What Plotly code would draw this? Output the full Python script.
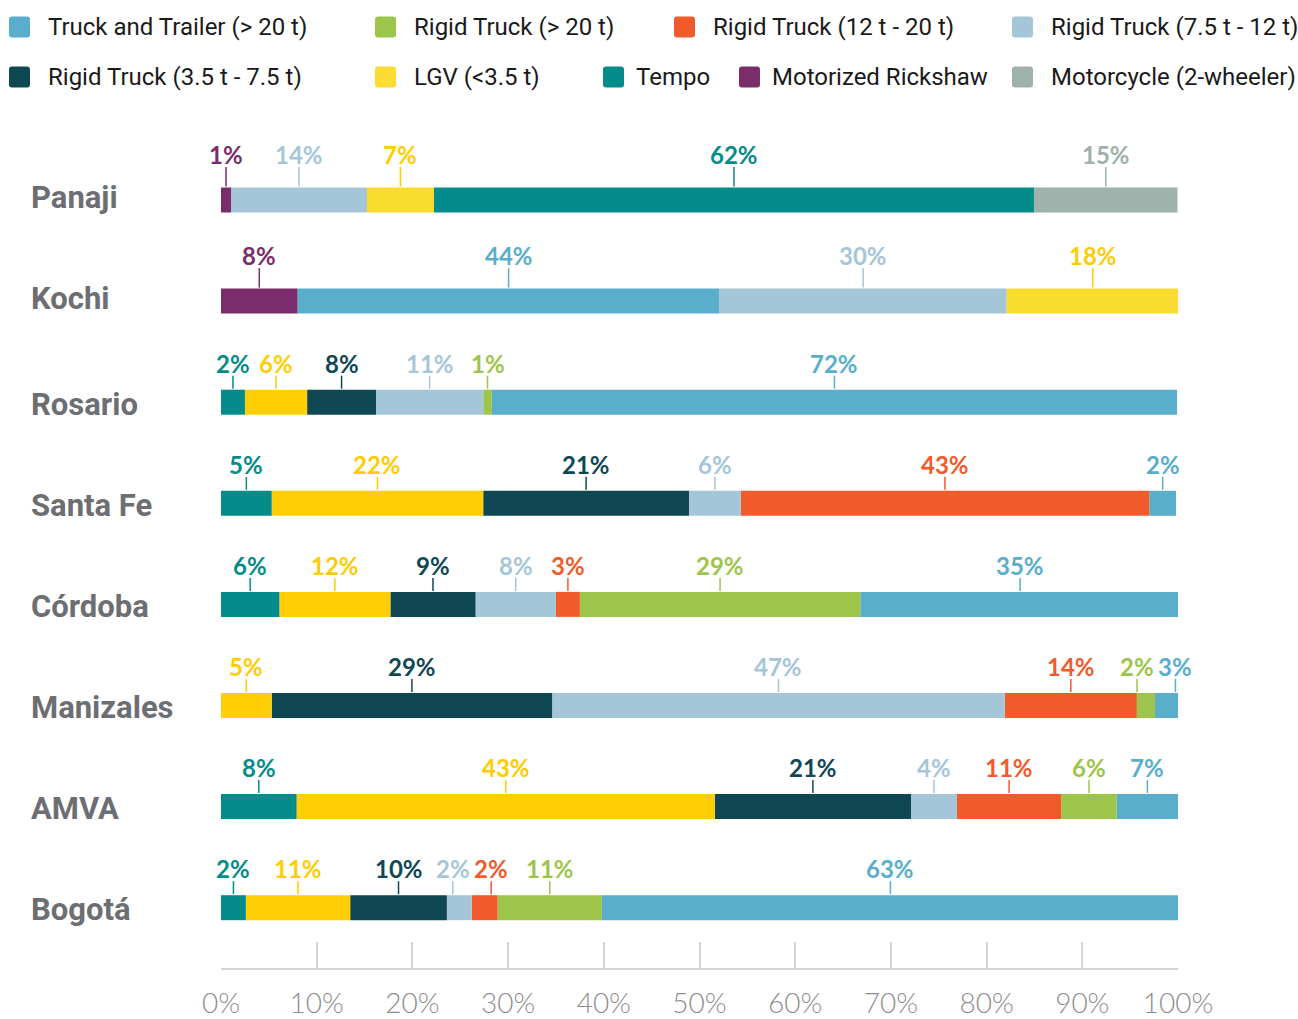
import plotly.graph_objects as go

# ---------------- data ----------------
CITIES = ["Panaji", "Kochi", "Rosario", "Santa Fe", "Córdoba", "Manizales", "AMVA", "Bogotá"]

TYPES = [
    "Truck and Trailer (> 20 t)",
    "Rigid Truck (> 20 t)",
    "Rigid Truck (12 t - 20 t)",
    "Rigid Truck (7.5 t - 12 t)",
    "Rigid Truck (3.5 t - 7.5 t)",
    "LGV (<3.5 t)",
    "Tempo",
    "Motorized Rickshaw",
    "Motorcycle (2-wheeler)",
]

# share of each vehicle type per city (%), order follows CITIES
SHARE_TRUCK_TRAILER = [None, 44.1, 71.6, 2.8, 33.4, 2.4, 6.4, 60.3]
SHARE_RIGID_20 = [None, None, 0.9, None, 29.3, 1.9, 5.8, 10.9]
SHARE_RIGID_12_20 = [None, None, None, 42.7, 2.5, 13.8, 10.9, 2.7]
SHARE_RIGID_75_12 = [14.2, 30.0, 11.2, 5.4, 8.4, 47.3, 4.8, 2.6]
SHARE_RIGID_35_75 = [None, None, 7.2, 21.5, 8.9, 29.3, 20.5, 10.1]
SHARE_LGV = [7.0, 18.0, 6.5, 22.1, 11.6, 5.3, 43.7, 10.9]
SHARE_TEMPO = [62.7, None, 2.5, 5.3, 6.1, None, 7.9, 2.6]
SHARE_RICKSHAW = [1.05, 8.0, None, None, None, None, None, None]
SHARE_MOTORCYCLE = [15.0, None, None, None, None, None, None, None]

# printed labels (%)
LABEL_TRUCK_TRAILER = [None, 44, 72, 2, 35, 3, 7, 63]
LABEL_RIGID_20 = [None, None, 1, None, 29, 2, 6, 11]
LABEL_RIGID_12_20 = [None, None, None, 43, 3, 14, 11, 2]
LABEL_RIGID_75_12 = [14, 30, 11, 6, 8, 47, 4, 2]
LABEL_RIGID_35_75 = [None, None, 8, 21, 9, 29, 21, 10]
LABEL_LGV = [7, 18, 6, 22, 12, 5, 43, 11]
LABEL_TEMPO = [62, None, 2, 5, 6, None, 8, 2]
LABEL_RICKSHAW = [1, 8, None, None, None, None, None, None]
LABEL_MOTORCYCLE = [15, None, None, None, None, None, None, None]

# stacking order (left to right) of the segments in each city
ORDER_PANAJI = ["Motorized Rickshaw", "Rigid Truck (7.5 t - 12 t)", "LGV (<3.5 t)", "Tempo",
                "Motorcycle (2-wheeler)"]
ORDER_KOCHI = ["Motorized Rickshaw", "Truck and Trailer (> 20 t)", "Rigid Truck (7.5 t - 12 t)",
               "LGV (<3.5 t)"]
ORDER_LATAM = ["Tempo", "LGV (<3.5 t)", "Rigid Truck (3.5 t - 7.5 t)", "Rigid Truck (7.5 t - 12 t)",
               "Rigid Truck (12 t - 20 t)", "Rigid Truck (> 20 t)", "Truck and Trailer (> 20 t)"]
CITY_ORDER = [ORDER_PANAJI, ORDER_KOCHI] + [ORDER_LATAM] * 6

X_TICKS = [0, 10, 20, 30, 40, 50, 60, 70, 80, 90, 100]

# ---------------- style ----------------
SHARES = dict(zip(TYPES, [SHARE_TRUCK_TRAILER, SHARE_RIGID_20, SHARE_RIGID_12_20, SHARE_RIGID_75_12,
                          SHARE_RIGID_35_75, SHARE_LGV, SHARE_TEMPO, SHARE_RICKSHAW, SHARE_MOTORCYCLE]))
LABELS = dict(zip(TYPES, [LABEL_TRUCK_TRAILER, LABEL_RIGID_20, LABEL_RIGID_12_20, LABEL_RIGID_75_12,
                          LABEL_RIGID_35_75, LABEL_LGV, LABEL_TEMPO, LABEL_RICKSHAW, LABEL_MOTORCYCLE]))
COLORS = {
    "Truck and Trailer (> 20 t)": "#58aecb",
    "Rigid Truck (> 20 t)": "#9dc44b",
    "Rigid Truck (12 t - 20 t)": "#f15b2c",
    "Rigid Truck (7.5 t - 12 t)": "#a5c6d8",
    "Rigid Truck (3.5 t - 7.5 t)": "#0f4753",
    "LGV (<3.5 t)": "#ffce05",
    "Tempo": "#048c8a",
    "Motorized Rickshaw": "#7b2d6b",
    "Motorcycle (2-wheeler)": "#9eb1aa",
}
LGV_LIGHT = "#fadc30"  # the Indian cities use a lighter yellow
LEGEND_COLORS = dict(COLORS)
LEGEND_COLORS["LGV (<3.5 t)"] = "#fadc32"
INDIA = {0, 1}  # the Indian panel is styled slightly differently

W, H = 1298, 1019
L, T = 221, 150
PW, PH = 957, 818
Y_TOP, Y_BOT = -0.4946, 7.5964
PXU = PH / (Y_BOT - Y_TOP)  # pixels per category unit
BAR_PX = 25

def pxx(px):
    return (px - L) / PW

def pxy(py):
    return (T + PH - py) / PH

fig = go.Figure()

# compute bases
bases = {t: [None] * len(CITIES) for t in TYPES}
for ci, order in enumerate(CITY_ORDER):
    acc = 0.0
    for t in order:
        v = SHARES[t][ci]
        if v is None:
            continue
        bases[t][ci] = acc
        acc += v

for t in TYPES:
    ys, xs, bs, cols = [], [], [], []
    for ci in range(len(CITIES)):
        v = SHARES[t][ci]
        if v is None:
            continue
        ys.append(ci)
        xs.append(v)
        bs.append(bases[t][ci])
        col = COLORS[t]
        if t == "LGV (<3.5 t)" and ci in INDIA:
            col = LGV_LIGHT
        cols.append(col)
    fig.add_trace(go.Bar(
        y=ys, x=xs, base=bs, orientation="h", name=t,
        marker=dict(color=cols, line=dict(width=0)),
        width=BAR_PX / PXU, showlegend=False,
        hovertemplate=t + ": %{x:.1f}%<extra></extra>",
    ))

annotations = []
shapes = []

# value labels with leader ticks
def text_w(s):
    return 13.9 * (len(s) - 1) + 18.5

for ci, order in enumerate(CITY_ORDER):
    items = []
    for t in order:
        v = SHARES[t][ci]
        if v is None:
            continue
        c = bases[t][ci] + v / 2
        txt = f"{LABELS[t][ci]}%"
        items.append([L + c / 100 * PW, txt, t])
    # resolve overlaps
    for _ in range(20):
        for k in range(len(items) - 1):
            a, b = items[k], items[k + 1]
            need = (text_w(a[1]) + text_w(b[1])) / 2 + 6
            gap = b[0] - a[0]
            if gap < need:
                d = (need - gap) / 2
                a[0] -= d
                b[0] += d
    lab_shift = 46 if ci in INDIA else 39
    tick_top = 33 if ci in INDIA else 26.5
    for xpx, txt, t in items:
        col = COLORS[t]
        if t == "LGV (<3.5 t)":
            col = "#ffcc00"
        xd = (xpx - L) / PW * 100
        annotations.append(dict(
            x=xd, y=ci, xref="x", yref="y", text=txt, showarrow=False,
            xanchor="center", yanchor="middle", yshift=lab_shift,
            font=dict(family="Lato", size=24, color=col, weight="bold"),
        ))
        shapes.append(dict(
            type="line", xref="x", yref="y", x0=xd, x1=xd,
            y0=ci - 13.5 / PXU, y1=ci - tick_top / PXU,
            line=dict(color=col, width=1.5),
        ))

# city labels
for ci, city in enumerate(CITIES):
    annotations.append(dict(
        x=pxx(29), y=ci, xref="paper", yref="y", text=city, showarrow=False,
        xanchor="left", yanchor="middle", yshift=3 if ci in INDIA else -2,
        font=dict(family="Roboto", size=31, color="#6d6e71", weight="bold"),
    ))

# custom legend
LEGEND_ROWS = [
    [("Truck and Trailer (> 20 t)", 9), ("Rigid Truck (> 20 t)", 375),
     ("Rigid Truck (12 t - 20 t)", 674), ("Rigid Truck (7.5 t - 12 t)", 1012)],
    [("Rigid Truck (3.5 t - 7.5 t)", 9), ("LGV (<3.5 t)", 375), ("Tempo", 603),
     ("Motorized Rickshaw", 739), ("Motorcycle (2-wheeler)", 1012)],
]
ROW_Y = [27, 77]
MS = 21
R = 3

def rrect(x0, y0, x1, y1, r):
    X = pxx
    Y = pxy
    return (f"M {X(x0 + r)} {Y(y0)} L {X(x1 - r)} {Y(y0)} Q {X(x1)} {Y(y0)} {X(x1)} {Y(y0 + r)} "
            f"L {X(x1)} {Y(y1 - r)} Q {X(x1)} {Y(y1)} {X(x1 - r)} {Y(y1)} "
            f"L {X(x0 + r)} {Y(y1)} Q {X(x0)} {Y(y1)} {X(x0)} {Y(y1 - r)} "
            f"L {X(x0)} {Y(y0 + r)} Q {X(x0)} {Y(y0)} {X(x0 + r)} {Y(y0)} Z")

for ry, row in zip(ROW_Y, LEGEND_ROWS):
    for name, mx in row:
        shapes.append(dict(
            type="path", xref="paper", yref="paper",
            path=rrect(mx, ry - MS / 2, mx + MS, ry + MS / 2, R),
            fillcolor=LEGEND_COLORS[name], line=dict(width=0),
        ))
        tx = mx + (37 if mx not in (603, 739) else 31)
        annotations.append(dict(
            x=pxx(tx), y=pxy(ry), xref="paper", yref="paper", text=name, showarrow=False,
            xanchor="left", yanchor="middle",
            font=dict(family="Roboto", size=24, color="#1a1a1a"),
        ))

fig.update_layout(
    width=W, height=H,
    margin=dict(l=L, r=W - L - PW, t=T, b=H - T - PH, pad=0, autoexpand=False),
    paper_bgcolor="white", plot_bgcolor="white",
    barmode="overlay",
    showlegend=False,
    xaxis=dict(
        range=[0, 100], tickvals=X_TICKS, ticktext=[f"{v}%" for v in X_TICKS],
        showgrid=False, zeroline=False, automargin=False,
        showline=True, linecolor="#d4d4d4", linewidth=2,
        ticks="inside", ticklen=26, tickwidth=1.5, tickcolor="#d4d4d4",
        tickfont=dict(family="Lato", size=28, color="#8e8e8e", weight=300),
        ticklabelstandoff=9, fixedrange=True,
    ),
    yaxis=dict(
        range=[Y_BOT, Y_TOP], showticklabels=False, showgrid=False, zeroline=False,
        showline=False, ticks="", fixedrange=True, automargin=False,
    ),
    annotations=annotations,
    shapes=shapes,
)

fig.write_html("out.html", config={"displayModeBar": False},
               post_script="document.body.style.margin='0';")
